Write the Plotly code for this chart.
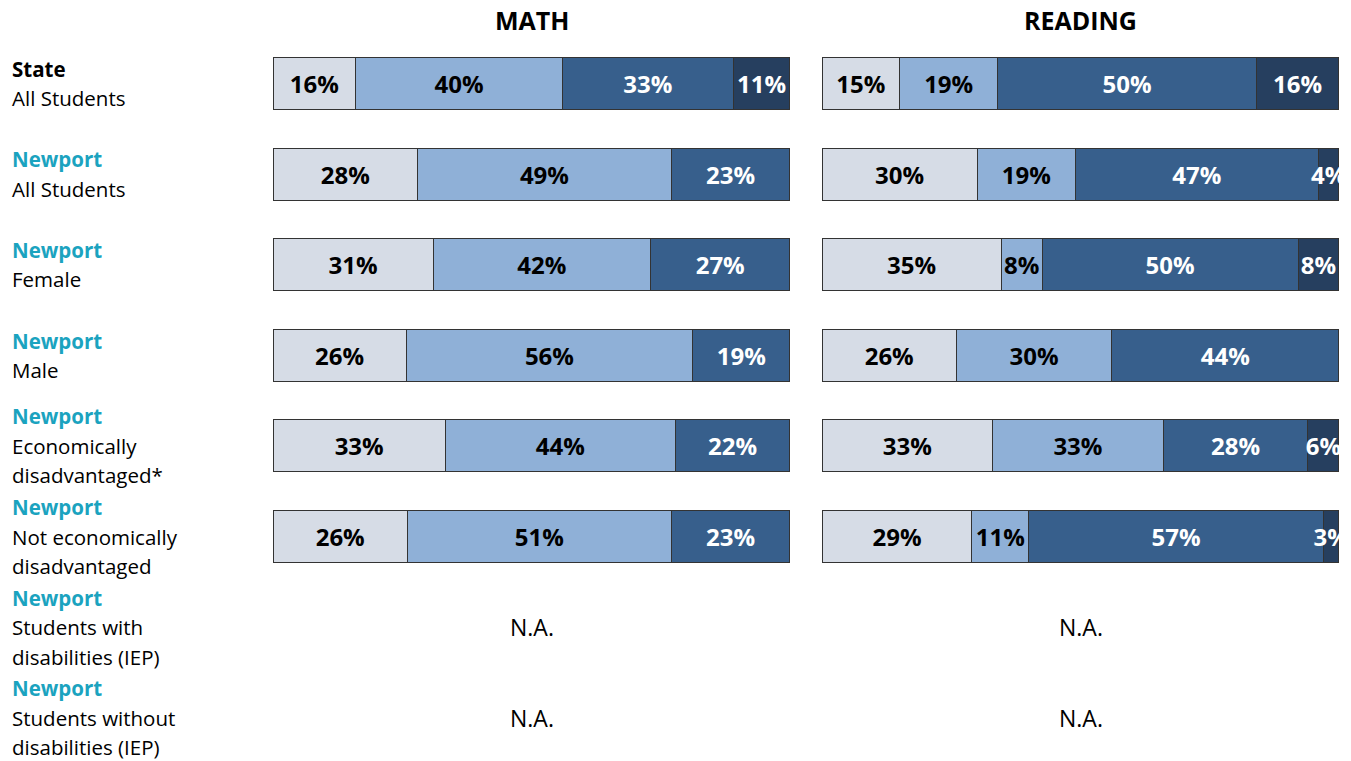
import plotly.graph_objects as go

# ---------------- data ----------------
row_heads = ["State", "Newport", "Newport", "Newport", "Newport", "Newport", "Newport", "Newport"]
row_subs = [
    ["All Students"],
    ["All Students"],
    ["Female"],
    ["Male"],
    ["Economically", "disadvantaged*"],
    ["Not economically", "disadvantaged"],
    ["Students with", "disabilities (IEP)"],
    ["Students without", "disabilities (IEP)"],
]
subjects = ["MATH", "READING"]
na_rows = [6, 7]
na_label = "N.A."

# performance levels (1 = lowest ... 4 = highest), one value per row 0..5
math_lv1 = [16, 28, 31, 26, 33, 26]
math_lv2 = [40, 49, 42, 56, 44, 51]
math_lv3 = [33, 23, 27, 19, 22, 23]
math_lv4 = [11, None, None, None, None, None]

read_lv1 = [15, 30, 35, 26, 33, 29]
read_lv2 = [19, 19, 8, 30, 33, 11]
read_lv3 = [50, 47, 50, 44, 28, 57]
read_lv4 = [16, 4, 8, None, 6, 3]

level_colors = ["#d6dce6", "#8fb0d7", "#375f8c", "#263f5f"]
level_text_colors = ["#000000", "#000000", "#ffffff", "#ffffff"]

TEAL = "#1ba3bf"
FONT = "Open Sans"

# page geometry (body margin removed via post_script)
W, H = 1351, 761


def px_x(px):
    return px / W


def px_y(py):
    return 1 - py / H


# ---------------- figure ----------------
fig = go.Figure()
bar_rows = list(range(len(math_lv1)))

subject_data = [
    ("x", [math_lv1, math_lv2, math_lv3, math_lv4]),
    ("x2", [read_lv1, read_lv2, read_lv3, read_lv4]),
]
for xa, levels in subject_data:
    for i, vals in enumerate(levels):
        fig.add_trace(go.Bar(
            x=vals, y=bar_rows, orientation="h",
            xaxis=xa, yaxis="y",
            width=0.574,
            marker=dict(color=level_colors[i], line=dict(color="#333333", width=1)),
            text=[None if v is None else f"{v}%" for v in vals],
            texttemplate="%{text}",
            textposition="inside", insidetextanchor="middle",
            textangle=0, constraintext="none", cliponaxis=False,
            textfont=dict(family=FONT, size=24, color=level_text_colors[i], weight="bold"),
            showlegend=False, hoverinfo="skip",
        ))

# axis geometry
row_px = 90.6
top_px = 83.5
span = H / row_px
r_top = -top_px / row_px
fig.update_layout(
    width=W, height=H,
    margin=dict(l=0, r=0, t=0, b=0),
    paper_bgcolor="white", plot_bgcolor="white",
    barmode="stack", barnorm="percent",
    xaxis=dict(domain=[px_x(273), px_x(790)], range=[0, 100.001], visible=False, fixedrange=True),
    xaxis2=dict(domain=[px_x(822), px_x(1339)], range=[0, 100.001], visible=False, fixedrange=True, anchor="y"),
    yaxis=dict(domain=[0, 1], range=[r_top + span, r_top], visible=False, fixedrange=True),
    showlegend=False,
)

ann = []
# subject titles
for xr, s in zip(["x domain", "x2 domain"], subjects):
    ann.append(dict(xref=xr, x=0.5, yref="paper", y=px_y(20), text=s, showarrow=False,
                    xanchor="center", yanchor="middle",
                    font=dict(family=FONT, size=25, color="#000000", weight="bold")))

# row labels
line_step = 29.5 / row_px
for r, (head, subs) in enumerate(zip(row_heads, row_subs)):
    lines = [head] + subs
    n = len(lines)
    for k, t in enumerate(lines):
        yy = r + (k - (n - 1) / 2) * line_step
        if k == 0:
            f = dict(family=FONT, size=20.5, color="#000000" if head == "State" else TEAL, weight="bold")
        else:
            f = dict(family=FONT, size=20.5, color="#000000")
        ann.append(dict(xref="paper", x=px_x(10), yref="y", y=yy, text=t, showarrow=False,
                        xanchor="left", yanchor="middle", font=f))

# N.A. rows
for r in na_rows:
    for xr in ["x domain", "x2 domain"]:
        ann.append(dict(xref=xr, x=0.5, yref="y", y=r, text=na_label, showarrow=False,
                        xanchor="center", yanchor="middle",
                        font=dict(family=FONT, size=23, color="#000000")))

fig.update_layout(annotations=ann)
fig.write_html(
    "out.html",
    config={"displayModeBar": False, "staticPlot": True},
    post_script="document.body.style.margin='0';document.body.style.overflow='hidden';",
)
